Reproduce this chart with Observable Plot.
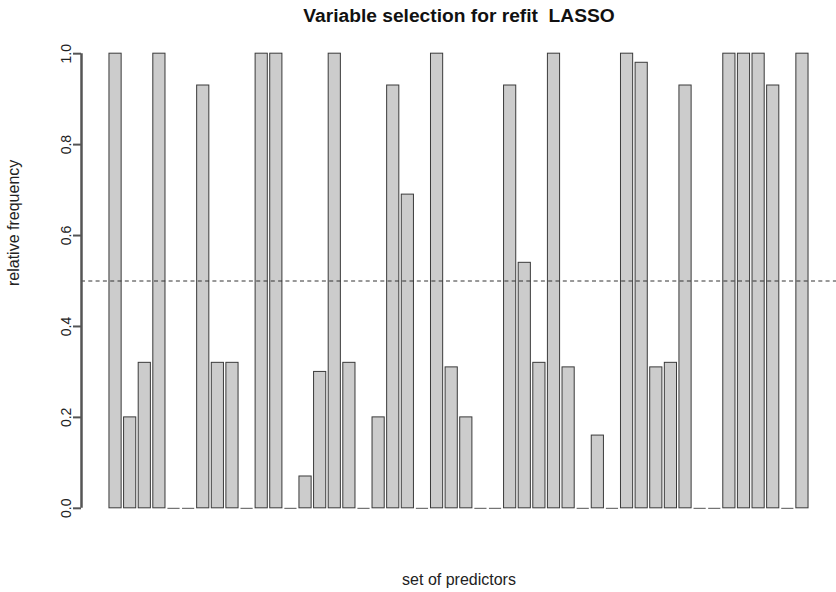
<!DOCTYPE html>
<html>
<head>
<meta charset="utf-8">
<script src="https://cdn.jsdelivr.net/npm/d3@7"></script>
<script src="https://cdn.jsdelivr.net/npm/@observablehq/plot@0.6"></script>
<style>
  html, body { margin: 0; padding: 0; background: #fff; }
  #chart svg { display: block; font-family: "Liberation Sans", Arial, Helvetica, sans-serif; }
</style>
</head>
<body>
<div id="chart"></div>
<script>
// ---- data (48 predictors, relative selection frequency) ----
const predictors = d3.range(1, 49);
const frequency = [
  1.00, 0.20, 0.32, 1.00, 0.00, 0.00, 0.93, 0.32, 0.32, 0.00,
  1.00, 1.00, 0.00, 0.07, 0.30, 1.00, 0.32, 0.00, 0.20, 0.93,
  0.69, 0.00, 1.00, 0.31, 0.20, 0.00, 0.00, 0.93, 0.54, 0.32,
  1.00, 0.31, 0.00, 0.16, 0.00, 1.00, 0.98, 0.31, 0.32, 0.93,
  0.00, 0.00, 1.00, 1.00, 1.00, 0.93, 0.00, 1.00
];
const yTicks = [0, 0.2, 0.4, 0.6, 0.8, 1.0];
const threshold = [0.5];
const titleText = "Variable selection for refit  LASSO";
const xLabel = "set of predictors";
const yLabel = "relative frequency";

// barplot convention: bar width 1, space 0.2 (in data units)
const barWidth = 1, barSpace = 0.2;
const table = predictors.map((p, i) => ({
  predictor: p,
  value: frequency[i],
  x1: barSpace + i * (barWidth + barSpace),
  x2: barSpace + i * (barWidth + barSpace) + barWidth
}));
const lo = table[0].x1, hi = table[table.length - 1].x2;
const ext = (hi - lo) * 0.04;
const xDomain = [lo - ext, hi + ext];
const yDomain = [0 - 0.04, 1 + 0.04];

const ink = "#333";
const axisInk = "#555";
const chart = Plot.plot({
  width: 836,
  height: 592,
  marginLeft: 81,
  marginRight: 0,
  marginTop: 35,
  marginBottom: 66,
  style: { fontFamily: '"Liberation Sans", Arial, Helvetica, sans-serif', color: "#222", background: "#fff" },
  x: { type: "linear", domain: xDomain, axis: null },
  y: { domain: yDomain, axis: null },
  marks: [
    Plot.rectY(table.filter(d => d.value > 0), {
      x1: "x1", x2: "x2", y1: 0, y2: "value",
      fill: "#cccccc", stroke: "#3a3a3a", strokeWidth: 1
    }),
    Plot.ruleY(table.filter(d => d.value === 0), {
      x1: "x1", x2: "x2", y: 0, stroke: "#555", strokeWidth: 1
    }),
    Plot.ruleY(threshold, { stroke: ink, strokeWidth: 1, strokeDasharray: "4,3.3" }),
    // tick labels, rotated like R's default (las = 0)
    Plot.axisY({
      ticks: yTicks, tickFormat: d3.format(".1f"), tickSize: 0, tickPadding: 15,
      rotate: -90, textAnchor: "middle", fontSize: 14, fill: "#222", label: null
    }),
    Plot.text([titleText], {
      frameAnchor: "top", lineAnchor: "bottom", dy: -14,
      fontSize: 19.2, fontWeight: "bold", fill: "#111"
    }),
    Plot.text([xLabel], {
      frameAnchor: "bottom", lineAnchor: "bottom", dy: 58, fontSize: 16, fill: "#222"
    }),
    Plot.text([yLabel], {
      frameAnchor: "left", rotate: -90, dx: -68, dy: 5, fontSize: 16, fill: "#222"
    }),
    // tick marks (horizontal, pointing left)
    Plot.axisY({
      ticks: yTicks, tickSize: 8, tickFormat: () => "", stroke: axisInk, strokeWidth: 2, label: null
    }),
    // y axis line from first to last tick
    Plot.ruleX([xDomain[0]], { y1: yTicks[0], y2: yTicks[yTicks.length - 1], stroke: axisInk, strokeWidth: 2.5 })
  ]
});
document.getElementById("chart").appendChild(chart);
</script>
</body>
</html>
